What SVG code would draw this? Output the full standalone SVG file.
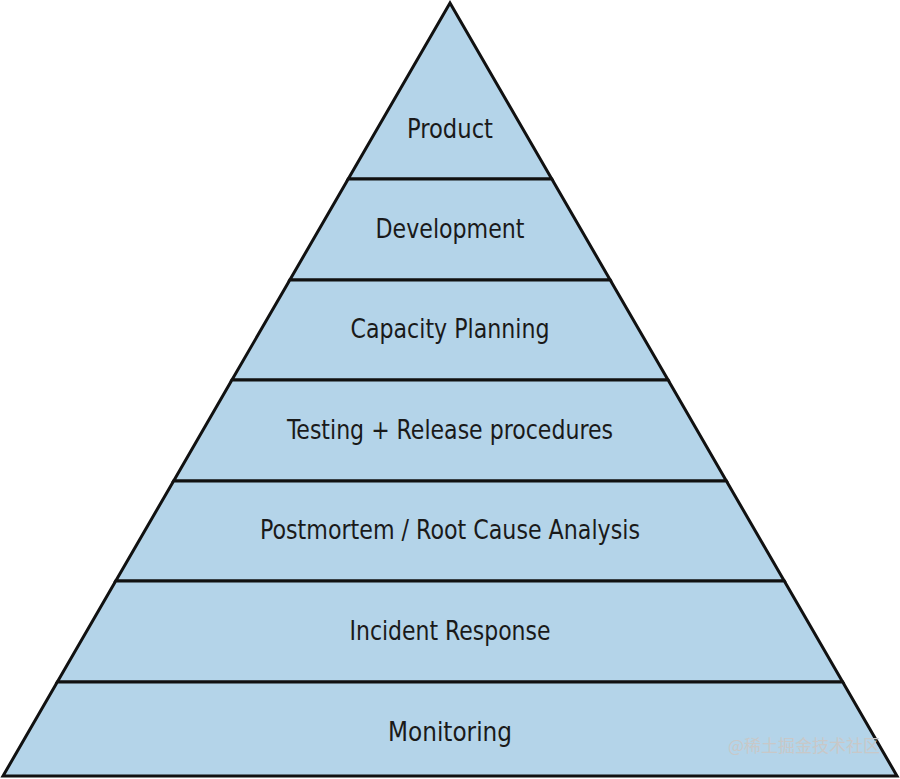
<svg xmlns="http://www.w3.org/2000/svg" width="900" height="779" viewBox="0 0 900 779">
<style>
.band{fill:#b4d4e9;stroke:#111;stroke-width:3;stroke-linejoin:miter}
.lbl{font-family:"DejaVu Sans Condensed","Liberation Sans",sans-serif;font-stretch:condensed;font-size:27px;fill:#1a1a1a;text-anchor:middle}
.wm{font-family:"Noto Sans CJK SC",sans-serif;font-size:17px;fill:#c8c8c8;text-anchor:end}
</style>
<rect width="900" height="779" fill="#fff"/>
<g id="product"><polygon class="band" points="450,3 551.8,179 348.2,179"/><text class="lbl" x="450" y="138" textLength="86" lengthAdjust="spacingAndGlyphs">Product</text></g>
<g id="development"><polygon class="band" points="348.2,179 551.8,179 610.2,280 289.8,280"/><text class="lbl" x="450" y="238" textLength="149" lengthAdjust="spacingAndGlyphs">Development</text></g>
<g id="capacity"><polygon class="band" points="289.8,280 610.2,280 668.1,380 231.9,380"/><text class="lbl" x="450" y="338" textLength="199" lengthAdjust="spacingAndGlyphs">Capacity Planning</text></g>
<g id="testing"><polygon class="band" points="231.9,380 668.1,380 726.4,481 173.6,481"/><text class="lbl" x="450" y="439" textLength="326" lengthAdjust="spacingAndGlyphs">Testing + Release procedures</text></g>
<g id="postmortem"><polygon class="band" points="173.6,481 726.4,481 784.3,581 115.7,581"/><text class="lbl" x="450" y="539" textLength="380" lengthAdjust="spacingAndGlyphs">Postmortem / Root Cause Analysis</text></g>
<g id="incident"><polygon class="band" points="115.7,581 784.3,581 842.7,682 57.3,682"/><text class="lbl" x="450" y="640" textLength="201" lengthAdjust="spacingAndGlyphs">Incident Response</text></g>
<g id="monitoring"><polygon class="band" points="57.3,682 842.7,682 897,776 3,776"/><text class="lbl" x="450" y="741" textLength="124" lengthAdjust="spacingAndGlyphs">Monitoring</text></g>
<g id="connectors"/>
<text class="wm" x="880" y="752">@稀土掘金技术社区</text>
</svg>
